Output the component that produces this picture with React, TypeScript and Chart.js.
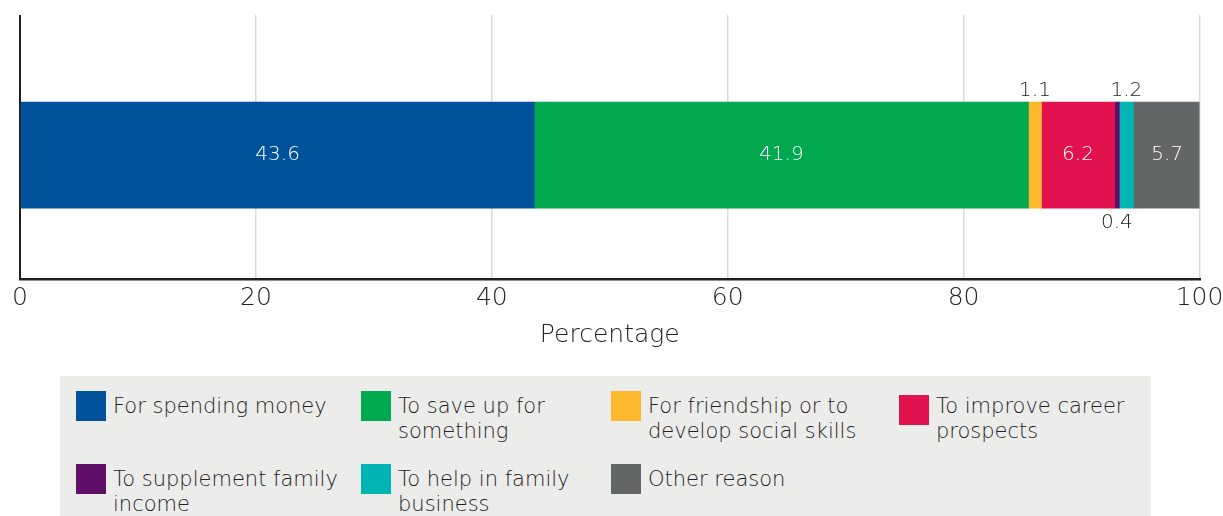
import React, { useEffect, useRef } from "react";
import { Chart, registerables } from "chart.js";

Chart.register(...registerables);

const CATEGORIES = [
  "For spending money",
  "To save up for something",
  "For friendship or to develop social skills",
  "To improve career prospects",
  "To supplement family income",
  "To help in family business",
  "Other reason",
];
const VALUES = [43.6, 41.9, 1.1, 6.2, 0.4, 1.2, 5.7];
const COLORS = ["#00529B", "#00A84F", "#FDB92E", "#E2124F", "#5F0F68", "#00B5B3", "#636666"];
const LABEL_PLACEMENT = ["inside", "inside", "above", "inside", "below", "above", "inside"];
const X_TICKS = [0, 20, 40, 60, 80, 100];
const X_TITLE = "Percentage";

// layout constants
const FONT = "'DejaVu Sans', sans-serif";
const BAR_Y = -0.068;
const LEGEND_COL_X = [16, 301, 551, 839];
const LEGEND_ROW_Y = [15, 88];
const LEGEND_TEXT_W = [240, 200, 240, 210];
const LEGEND_SWATCH_DY = [0, 0, 0, 4, 0, 0, 0];
const TEXT_DARK = "#222222";

const valueLabels = {
  id: "valueLabels",
  afterDatasetsDraw(chart: any) {
    const ctx = chart.ctx;
    ctx.save();
    ctx.font = `300 20px ${FONT}`;
    ctx.textAlign = "center";
    ctx.textBaseline = "middle";
    chart.data.datasets.forEach((_ds: any, i: number) => {
      const meta = chart.getDatasetMeta(i);
      const el = meta.data[0];
      if (!el) return;
      const { x, y, base, height } = el.getProps(["x", "y", "base", "height"], true);
      const cx = (x + base) / 2;
      const place = LABEL_PLACEMENT[i];
      let ty = y;
      let color = "#ffffff";
      if (place === "above") {
        ty = y - height / 2 - 11;
        color = TEXT_DARK;
      } else if (place === "below") {
        ty = y + height / 2 + 15;
        color = TEXT_DARK;
      }
      ctx.fillStyle = color;
      ctx.fillText(VALUES[i].toFixed(1), cx, ty);
    });
    ctx.restore();
  },
};

export default function App() {
  const ref = useRef<HTMLCanvasElement | null>(null);

  useEffect(() => {
    if (!ref.current) return;
    const chart = new Chart(ref.current, {
      type: "bar",
      data: {
        datasets: CATEGORIES.map((c, i) => ({
          label: c,
          data: [{ x: VALUES[i], y: BAR_Y }],
          backgroundColor: COLORS[i],
          borderWidth: 0,
          barThickness: 106,
        })),
      } as any,
      options: {
        animation: false,
        responsive: false,
        indexAxis: "y",
        layout: { padding: { left: 20, right: 0, top: 15, bottom: 0 } },
        plugins: { legend: { display: false }, tooltip: { enabled: false } },
        scales: {
          x: {
            type: "linear",
            stacked: true,
            min: 0,
            max: 100,
            afterBuildTicks: (s: any) => {
              s.ticks = X_TICKS.map((v) => ({ value: v }));
            },
            afterFit: (s: any) => {
              s.paddingRight = 23.5;
              s.paddingLeft = 0;
            },
            grid: {
              drawTicks: false,
              color: (c: any) => (c.tick && c.tick.value === 0 ? "#231f20" : "#d9d9d9"),
              lineWidth: (c: any) => (c.tick && c.tick.value === 0 ? 2 : 1.5),
            },
            border: { display: true, color: "#231f20", width: 2.5 },
            ticks: {
              padding: 4,
              color: TEXT_DARK,
              font: { family: FONT, size: 25, weight: "300" as any },
              maxRotation: 0,
              autoSkip: false,
            },
            title: {
              display: true,
              text: X_TITLE,
              color: TEXT_DARK,
              font: { family: FONT, size: 25, weight: "300" as any },
              padding: { top: 3, bottom: 4 },
            },
          },
          y: { type: "linear", stacked: true, min: -1, max: 1, display: false },
        },
      } as any,
      plugins: [valueLabels],
    });
    return () => chart.destroy();
  }, []);

  return (
    <div style={{ position: "absolute", left: 0, top: 0, width: 1223, height: 516, background: "#fff" }}>
      <canvas ref={ref} width={1223} height={354} style={{ position: "absolute", left: 0, top: 0, width: 1223, height: 354 }} />
      <div
        style={{
          position: "absolute",
          left: 60,
          top: 376,
          width: 1091,
          height: 140,
          background: "#ECECEA",
        }}
      >
        {CATEGORIES.map((c, i) => {
          const col = i % 4;
          const row = Math.floor(i / 4);
          return (
            <div key={c} style={{ position: "absolute", left: LEGEND_COL_X[col], top: LEGEND_ROW_Y[row] }}>
              <div
                style={{
                  position: "absolute",
                  left: 0,
                  top: LEGEND_SWATCH_DY[i],
                  width: 30,
                  height: 30,
                  background: COLORS[i],
                }}
              />
              <div
                style={{
                  position: "absolute",
                  left: 37,
                  top: 3,
                  width: LEGEND_TEXT_W[col],
                  fontFamily: FONT,
                  fontWeight: 300,
                  fontSize: 21,
                  lineHeight: "25px",
                  color: TEXT_DARK,
                }}
              >
                {c}
              </div>
            </div>
          );
        })}
      </div>
    </div>
  );
}
